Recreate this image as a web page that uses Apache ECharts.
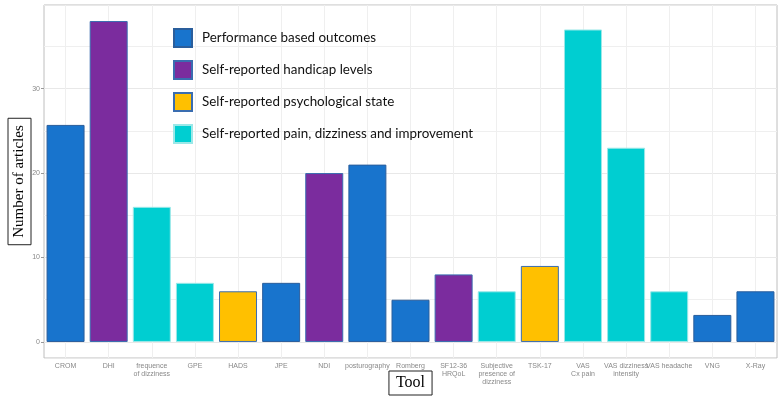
<!DOCTYPE html>
<html lang="en">
<head>
    <meta charset="utf-8">
    <title>Tool</title>
    <script src="https://cdn.jsdelivr.net/npm/echarts@6/dist/echarts.min.js"></script>
    <style>
        html, body { margin: 0; padding: 0; background: #fff; }
        #main { width: 780px; height: 401px; }
    </style>
</head>
<body>
<div id="main"></div>
<script type="text/javascript">
    // 数据
    var tools = ['CROM', 'DHI', 'frequence\nof dizziness', 'GPE', 'HADS', 'JPE', 'NDI', 'posturography', 'Romberg',
        'SF12-36\nHRQoL', 'Subjective\npresence of\ndizziness', 'TSK-17', 'VAS\nCx pain', 'VAS dizziness\nintensity',
        'VAS headache', 'VNG', 'X-Ray'];
    var articles = [25.7, 38, 16, 7, 6, 7, 20, 21, 5, 8, 6, 9, 37, 23, 6, 3.2, 6];
    // 0 performance, 1 handicap, 2 psychological, 3 pain/dizziness
    var groupOf = [0, 1, 3, 3, 2, 0, 1, 0, 0, 1, 3, 2, 3, 3, 3, 0, 0];
    var groupNames = ['Performance based outcomes', 'Self-reported handicap levels',
        'Self-reported psychological state', 'Self-reported pain, dizziness and improvement'];
    var groupColors = ['#1874CD', '#7B2C9E', '#FFC000', '#00CED1'];
    var groupBorders = ['#2A5E9C', '#3A6DB0', '#3A6DB0', '#9BE8E8'];
    var minorGrid = [5, 15, 25, 35];

    var myChart = echarts.init(document.getElementById('main'));

    var series = groupNames.map(function (name, g) {
        return {
            name: name,
            type: 'bar',
            barWidth: 38,
            barGap: '-100%',
            z: 2,
            itemStyle: {color: groupColors[g], borderColor: groupBorders[g], borderWidth: 1},
            data: articles.map(function (v, i) { return groupOf[i] === g ? v : '-'; })
        };
    });

    // 网格线 (ggplot 风格)
    var gridLines = tools.map(function (t) { return {xAxis: t}; })
        .concat(minorGrid.map(function (v) { return {yAxis: v}; }));
    series.push({
        name: 'grid',
        type: 'line',
        z: 1,
        data: tools.map(function () { return '-'; }),
        markLine: {
            silent: true,
            z: 1,
            symbol: 'none',
            animation: false,
            label: {show: false},
            lineStyle: {color: '#EFEFEF', type: 'solid', width: 1},
            data: gridLines
        }
    });

    myChart.setOption({
        animation: false,
        grid: {
            left: 44, right: 3, top: 5, bottom: 43, containLabel: false, outerBoundsMode: 'none',
            show: true, borderColor: '#BEBEBE', borderWidth: 1
        },
        legend: {
            orient: 'vertical',
            left: 168,
            top: 23,
            itemWidth: 18,
            itemHeight: 18,
            itemGap: 12,
            icon: 'rect',
            data: groupNames,
            textStyle: {fontFamily: 'Lato', fontSize: 13.4, color: '#111', padding: [0, 0, 0, 5]}
        },
        xAxis: {
            type: 'category',
            data: tools,
            name: 'Tool',
            nameLocation: 'middle',
            nameGap: 13,
            nameMoveOverlap: false,
            nameTextStyle: {
                fontFamily: 'Liberation Serif', fontSize: 16, color: '#000',
                borderColor: '#222', borderWidth: 1, padding: [4, 7]
            },
            axisLine: {show: false},
            axisTick: {show: true, alignWithLabel: true, length: 3, lineStyle: {color: '#999'}},
            axisLabel: {interval: 0, fontSize: 7, color: '#888', margin: 4, lineHeight: 8, fontFamily: 'Liberation Sans'},
            splitLine: {show: false}
        },
        yAxis: {
            type: 'value',
            min: -1.9,
            max: 39.9,
            name: 'Number of articles',
            nameLocation: 'middle',
            nameGap: 13,
            nameMoveOverlap: false,
            nameRotate: 90,
            nameTextStyle: {
                fontFamily: 'Liberation Serif', fontSize: 15, color: '#000',
                borderColor: '#222', borderWidth: 1, padding: [4, 7]
            },
            axisLine: {show: false},
            axisTick: {show: true, length: 3, lineStyle: {color: '#999'}},
            axisLabel: {fontSize: 7, color: '#888', margin: 4, showMinLabel: false, showMaxLabel: false, fontFamily: 'Liberation Sans'},
            splitLine: {show: true, lineStyle: {color: '#E8E8E8'}}
        },
        series: series
    });
</script>
</body>
</html>
